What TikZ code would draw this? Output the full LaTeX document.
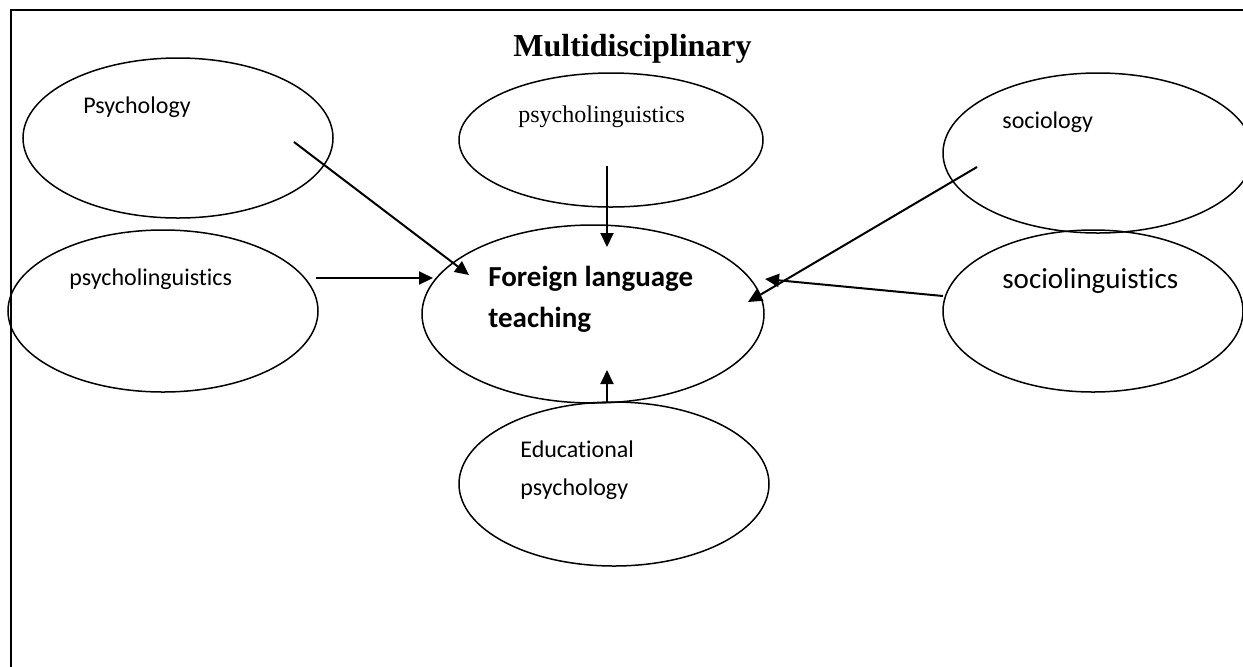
\documentclass[tikz,border=0pt]{standalone}
\usepackage{fontspec}
\setmainfont{Liberation Serif}
\newfontfamily\calfont[Ligatures=NoCommon]{Carlito}
\usetikzlibrary{shapes.geometric,arrows.meta}
\begin{document}
\begin{tikzpicture}[x=0.5pt,y=-0.5pt,
  ell/.style={draw,ellipse,line width=0.75pt,inner sep=0pt},
  lbl/.style={anchor=base west,inner sep=0pt},
  cal/.style={font=\calfont\fontsize{12}{14}\selectfont},
  arr/.style={line width=1pt,-{Triangle[length=7pt,width=6.5pt]}}]
\useasboundingbox (0,0) rectangle (1243,666);
\clip (0,0) rectangle (1243,666);
\fill[white] (0,0) rectangle (1243,666);
\draw[line width=1pt] (11,700) -- (11,10) -- (1300,10);

% ellipses
\node[ell,minimum width=155pt,minimum height=80pt] (psy) at (178,138) {};
\node[ell,minimum width=152pt,minimum height=67pt] (tpl) at (611,140) {};
\node[ell,minimum width=155pt,minimum height=80pt] (soc) at (1098,153) {};
\node[ell,minimum width=150pt,minimum height=81pt] (sol) at (1093,311) {};
\node[ell,minimum width=155pt,minimum height=81pt] (lpl) at (163,311) {};
\node[ell,minimum width=171pt,minimum height=89pt] (flt) at (593,314) {};
\node[ell,minimum width=155pt,minimum height=82pt] (edu) at (614,484) {};

% texts
\node[lbl,font=\bfseries\fontsize{16}{19}\selectfont] (title) at (513,56) {Multidisciplinary};
\node[lbl,cal] (tpsy) at (83,113) {Psychology};
\node[lbl,font=\fontsize{12}{14}\selectfont] (ttpl) at (518,122) {psycholinguistics};
\node[lbl,cal] (tsoc) at (1002,128) {sociology};
\node[lbl,font=\calfont\fontsize{14.5}{17}\selectfont] (tsol) at (1002,288) {sociolinguistics};
\node[lbl,cal] (tlpl) at (69,285) {psycholinguistics};
\node[lbl,font=\calfont\bfseries\fontsize{14.5}{17}\selectfont] (tflt1) at (488,286) {Foreign language};
\node[lbl,font=\calfont\bfseries\fontsize{14.5}{17}\selectfont] (tflt2) at (488,327) {teaching};
\node[lbl,cal] (tedu1) at (520,457) {Educational};
\node[lbl,cal] (tedu2) at (520,495) {psychology};

% arrow end points
\coordinate (psyS) at (294,142);  \coordinate (psyE) at (469,275);
\coordinate (tplS) at (607,166);  \coordinate (tplE) at (607,247);
\coordinate (lplS) at (316,278);  \coordinate (lplE) at (433,278);
\coordinate (eduS) at (607,402);  \coordinate (eduE) at (607,370);
\coordinate (socS) at (977,167);  \coordinate (socE) at (748,302);
\coordinate (solS) at (943,296);  \coordinate (solE) at (765,279);

\draw[arr] (psyS) -- (psyE);
\draw[arr] (tplS) -- (tplE);
\draw[arr] (lplS) -- (lplE);
\draw[arr] (eduS) -- (eduE);
\draw[arr] (socS) -- (socE);
\draw[arr] (solS) -- (solE);
\end{tikzpicture}
\end{document}
